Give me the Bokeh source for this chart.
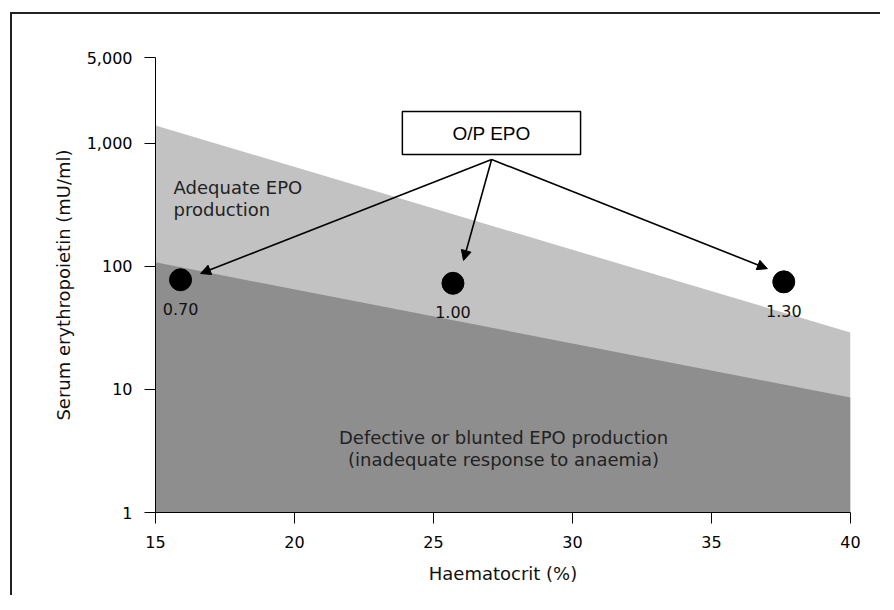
from bokeh.plotting import figure
from bokeh.models import Range1d, FixedTicker, NumeralTickFormatter, Arrow, NormalHead
from bokeh.layouts import column
from bokeh.embed import file_html
from bokeh.resources import INLINE
from bokeh.core.properties import value

# ---- data ----
haematocrit = [15, 40]
adequate_upper = [1400, 29]      # top edge of "adequate EPO production" band
defective_upper = [108, 8.6]     # top edge of "defective / blunted" band
band_floor = [1, 1]

point_hct = [15.9, 25.7, 37.6]
point_epo = [78, 73, 75]
point_labels = ["0.70", "1.00", "1.30"]

x_ticks = [15, 20, 25, 30, 35, 40]
y_ticks = [1, 10, 100, 1000, 5000]

# annotation geometry (data units)
box_hct = [23.88, 30.29]
box_epo = [815, 1820]
box_text_pos = (27.09, 1205)
arrow_start = (27.09, 741)
arrow_ends_hct = [16.62, 26.08, 37.01]
arrow_ends_epo = [87.7, 112, 96]

FONT = "DejaVu Sans"
BOX_FONT = "Liberation Sans"

p = figure(width=868, height=581, y_axis_type="log",
           x_range=Range1d(15, 40), y_range=Range1d(1, 5000),
           output_backend="svg", toolbar_location=None,
           min_border_left=143, min_border_top=43, min_border_right=30, min_border_bottom=83)
p.outline_line_color = None
p.grid.visible = False
p.background_fill_color = "white"

# bands
p.varea(x=haematocrit, y1=band_floor, y2=adequate_upper, fill_color="#c2c2c2")
p.varea(x=haematocrit, y1=band_floor, y2=defective_upper, fill_color="#8e8e8e")

# points
p.scatter(x=point_hct, y=point_epo, size=22, fill_color="black", line_color="black")
p.text(x=point_hct, y=point_epo, text=point_labels, y_offset=29,
       text_align="center", text_baseline="middle",
       text_font=value(FONT), text_font_size="16px", text_color="#111")

# label box
p.quad(left=[box_hct[0]], right=[box_hct[1]], bottom=[box_epo[0]], top=[box_epo[1]],
       fill_color="white", line_color="black", line_width=1.5)
p.text(x=[box_text_pos[0]], y=[box_text_pos[1]], text=["O/P EPO"],
       text_align="center", text_baseline="middle",
       text_font=value(BOX_FONT), text_font_size="19px", text_color="black")

for xe, ye in zip(arrow_ends_hct, arrow_ends_epo):
    p.add_layout(Arrow(end=NormalHead(size=10, fill_color="black", line_color="black"),
                       x_start=arrow_start[0], y_start=arrow_start[1],
                       x_end=xe, y_end=ye, line_width=1.6, line_color="black"))

# region texts
p.text(x=[15.65, 15.65], y=[438, 290], text=["Adequate EPO", "production"],
       text_align="left", text_baseline="middle",
       text_font=value(FONT), text_font_size="18px", text_color="#222")
p.text(x=[27.52, 27.52], y=[4.07, 2.70],
       text=["Defective or blunted EPO production", "(inadequate response to anaemia)"],
       text_align="center", text_baseline="middle",
       text_font=value(FONT), text_font_size="18px", text_color="#222")

# axes
p.xaxis.ticker = FixedTicker(ticks=x_ticks)
p.yaxis.ticker = FixedTicker(ticks=y_ticks, minor_ticks=[])
p.yaxis.formatter = NumeralTickFormatter(format="0,0")
for ax in (p.xaxis[0], p.yaxis[0]):
    ax.major_tick_out = 11
    ax.major_tick_in = 0
    ax.minor_tick_out = 0
    ax.minor_tick_in = 0
    ax.axis_line_color = "black"
    ax.major_tick_line_color = "black"
    ax.major_label_text_font = FONT
    ax.major_label_text_font_size = "16px"
    ax.major_label_text_color = "black"
    ax.axis_label_text_font = FONT
    ax.axis_label_text_font_size = "18px"
    ax.axis_label_text_font_style = "normal"
    ax.axis_label_text_color = "#111"
    ax.major_label_standoff = 12
p.xaxis.axis_label = "Haematocrit (%)"
p.yaxis.axis_label = "Serum erythropoietin (mU/ml)"
p.xaxis.axis_label_standoff = 12
p.yaxis.axis_label_standoff = 10

layout = column(p, margin=(12, 0, 0, 10),
                styles={"border-top": "2px solid #222", "border-left": "2px solid #222"})

open("out.html", "w").write(file_html(layout, INLINE))
